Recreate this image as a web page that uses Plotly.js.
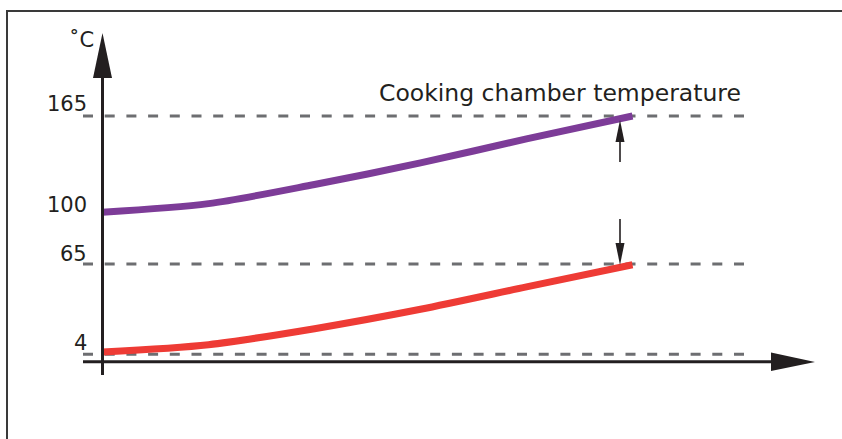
<!DOCTYPE html>
<html><head><meta charset="utf-8">
<script src="https://cdn.plot.ly/plotly-3.0.1.min.js"></script>
<style>html,body{margin:0;padding:0;background:#fff}#chart{width:842px;height:439px}</style>
</head><body><div id="chart"></div>
<script>
// ---- data ----
const time = [0, 0.2, 0.4, 0.6, 0.8, 1.0];
const chamberTemp = [100, 105.8, 118.7, 133.3, 149.5, 165];
const coreTemp = [5.5, 10.5, 21.3, 34.4, 49.5, 64.5];
const refLevels = [165, 65, 4];
const tickValues = [165, 100, 65, 4];
const tickLabels = ['165', '100', '65', '4'];
const unitLabel = '˚C';
const chamberLabel = 'Cooking chamber temperature';

// ---- layout geometry (pixels) ----
const W = 842, H = 439;
const X0PX = 102.5, XSCALE = 530;
const Y65PX = 264, YSCALE = 1.48;
const xv = px => (px - X0PX) / XSCALE;
const yv = py => 65 + (Y65PX - py) / YSCALE;
const P = (px, py) => xv(px) + ',' + yv(py);

const ink = '#231f20';
const dashCol = '#6d6e71';
const font = 'DejaVu Sans, Verdana, sans-serif';

const shapes = [];
// frame
shapes.push({type:'path', xref:'x', yref:'y', path:'M' + P(7, H + 5) + ' L' + P(7, 11) + ' L' + P(W + 5, 11),
  line:{color:'#3a3a3a', width:2}, layer:'below'});
// dashed reference levels
refLevels.forEach(v => shapes.push({type:'line', xref:'x', yref:'y', x0:xv(83), x1:xv(744), y0:v, y1:v,
  line:{color:dashCol, width:3, dash:'10px,11.7px'}, layer:'below'}));
// y axis with arrow
shapes.push({type:'line', xref:'x', yref:'y', x0:0, x1:0, y0:yv(375), y1:yv(76), line:{color:ink, width:3}});
shapes.push({type:'path', xref:'x', yref:'y', path:'M' + P(X0PX, 33) + ' L' + P(93, 78) + ' L' + P(112, 78) + ' Z',
  fillcolor:ink, line:{width:0}});
// x axis with arrow
shapes.push({type:'line', xref:'x', yref:'y', x0:xv(83), x1:xv(773), y0:yv(361.7), y1:yv(361.7), line:{color:ink, width:3}});
shapes.push({type:'path', xref:'x', yref:'y', path:'M' + P(815, 362) + ' L' + P(771, 352.5) + ' L' + P(771, 371) + ' Z',
  fillcolor:ink, line:{width:0}});
// small indicator arrows
shapes.push({type:'line', xref:'x', yref:'y', x0:xv(620), x1:xv(620), y0:yv(162), y1:yv(140), line:{color:ink, width:1.6}});
shapes.push({type:'path', xref:'x', yref:'y', path:'M' + P(620, 120) + ' L' + P(615.5, 142) + ' L' + P(624.5, 142) + ' Z',
  fillcolor:ink, line:{width:0}});
shapes.push({type:'line', xref:'x', yref:'y', x0:xv(620), x1:xv(620), y0:yv(219), y1:yv(246), line:{color:ink, width:1.6}});
shapes.push({type:'path', xref:'x', yref:'y', path:'M' + P(620, 265) + ' L' + P(615.5, 243) + ' L' + P(624.5, 243) + ' Z',
  fillcolor:ink, line:{width:0}});

const labelShift = [12.5, 7, 10, 11.5];
const annotations = tickValues.map((v, i) => ({
  xref:'x', yref:'y', x:xv(89), y:v, xanchor:'right', yanchor:'middle', yshift:labelShift[i],
  text:tickLabels[i], showarrow:false, font:{family:font, size:21, color:ink}
}));
annotations.push({xref:'x', yref:'y', x:xv(96), y:yv(40), xanchor:'right', yanchor:'middle',
  text:unitLabel, showarrow:false, font:{family:font, size:21, color:ink}});
annotations.push({xref:'x', yref:'y', x:xv(560), y:yv(93), xanchor:'center', yanchor:'middle',
  text:chamberLabel, showarrow:false, font:{family:font, size:23.5, color:ink}});

const traces = [
  {x:time, y:chamberTemp, type:'scatter', mode:'lines', line:{color:'#7d3c98', width:7, shape:'spline', smoothing:0.8},
   hoverinfo:'skip', showlegend:false},
  {x:time, y:coreTemp, type:'scatter', mode:'lines', line:{color:'#ee3b35', width:7, shape:'spline', smoothing:0.8},
   hoverinfo:'skip', showlegend:false}
];

const layout = {
  width:W, height:H, margin:{l:0, r:0, t:0, b:0},
  paper_bgcolor:'#fff', plot_bgcolor:'#fff',
  xaxis:{range:[xv(0), xv(W)], visible:false, fixedrange:true},
  yaxis:{range:[yv(H), yv(0)], visible:false, fixedrange:true},
  shapes:shapes, annotations:annotations, showlegend:false
};
Plotly.newPlot('chart', traces, layout, {staticPlot:true, displayModeBar:false});
</script></body></html>
